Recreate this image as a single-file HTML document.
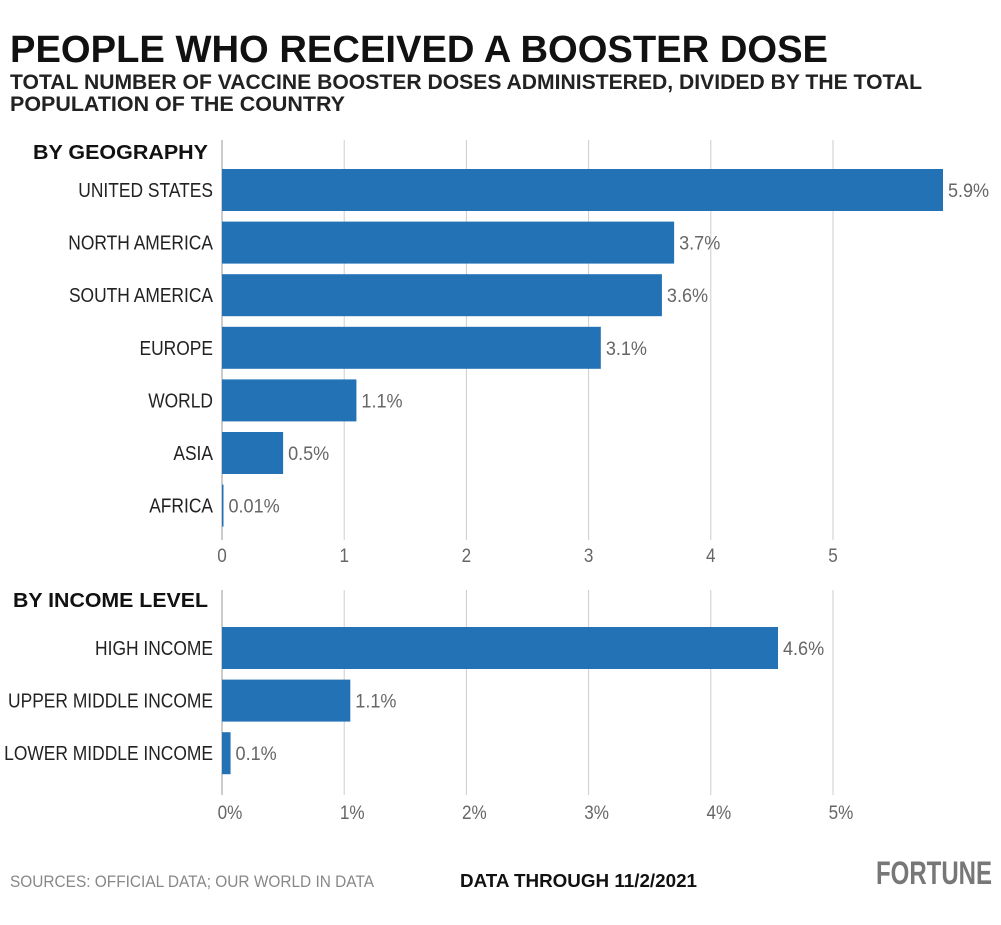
<!DOCTYPE html>
<html><head><meta charset="utf-8"><style>
body{margin:0;background:#fff;}
svg text{font-family:"Liberation Sans Narrow","Liberation Sans",sans-serif;}
</style></head><body>
<svg width="1001" height="920" viewBox="0 0 1001 920" xmlns="http://www.w3.org/2000/svg">
<text x="10" y="62" font-size="38" font-weight="bold" fill="#111" textLength="818" lengthAdjust="spacingAndGlyphs">PEOPLE WHO RECEIVED A BOOSTER DOSE</text>
<text x="10" y="89" font-size="21" font-weight="bold" fill="#222" textLength="912" lengthAdjust="spacingAndGlyphs">TOTAL NUMBER OF VACCINE BOOSTER DOSES ADMINISTERED, DIVIDED BY THE TOTAL</text>
<text x="10" y="111" font-size="21" font-weight="bold" fill="#222" textLength="335" lengthAdjust="spacingAndGlyphs">POPULATION OF THE COUNTRY</text>
<g id="top"></g><g id="bottom"></g>
<text x="10" y="887" font-size="17" fill="#888" textLength="364" lengthAdjust="spacingAndGlyphs">SOURCES: OFFICIAL DATA; OUR WORLD IN DATA</text>
<text x="460" y="887" font-size="18" font-weight="bold" fill="#111" textLength="237" lengthAdjust="spacingAndGlyphs">DATA THROUGH 11/2/2021</text>
<text x="876" y="884" font-size="32" font-weight="bold" fill="#777" textLength="116" lengthAdjust="spacingAndGlyphs">FORTUNE</text>
</svg>
<script>
const geoCategories=["UNITED STATES","NORTH AMERICA","SOUTH AMERICA","EUROPE","WORLD","ASIA","AFRICA"];
const geoValues=[5.9,3.7,3.6,3.1,1.1,0.5,0.01];
const geoLabels=["5.9%","3.7%","3.6%","3.1%","1.1%","0.5%","0.01%"];
const incomeCategories=["HIGH INCOME","UPPER MIDDLE INCOME","LOWER MIDDLE INCOME"];
const incomeValues=[4.55,1.05,0.07];
const incomeLabels=["4.6%","1.1%","0.1%"];
const geoTicks=["0","1","2","3","4","5"];
const incomeTicks=["0%","1%","2%","3%","4%","5%"];
const NS="http://www.w3.org/2000/svg";
const x0=222,unit=122.2;
function xs(v){return x0+v*unit;}
function mk(tag,attrs,parent,txt){const e=document.createElementNS(NS,tag);for(const k in attrs)e.setAttribute(k,attrs[k]);if(txt!==undefined)e.textContent=txt;parent.appendChild(e);return e;}
function squeeze(e,f){const w=e.getComputedTextLength();e.setAttribute('textLength',w*f);e.setAttribute('lengthAdjust','spacingAndGlyphs');}
function draw(g,title,titleY,titleW,cats,vals,labels,ticks,firstY,gridTop,gridBot,tickY,tickOffset){
  const t=mk('text',{x:208,y:titleY,'font-size':20,'font-weight':'bold','text-anchor':'end',fill:'#111',textLength:titleW,lengthAdjust:'spacingAndGlyphs'},g,title);
  
  
  ticks.forEach((tk,i)=>{
    const gx=xs(i);
    if(i>0){const l=mk('line',{x1:gx,x2:gx,y1:gridTop,y2:gridBot,stroke:'#ccc','stroke-width':1},g);
    
    }
    const tt=mk('text',{x:gx+tickOffset,y:tickY,'font-size':19,'text-anchor':'middle',fill:'#666'},g,tk);
    
    
    squeeze(tt,0.9);
  });
  const ax=mk('line',{x1:x0,x2:x0,y1:gridTop,y2:gridBot,stroke:'#999','stroke-width':1},g);
  
  
  cats.forEach((c,i)=>{
    const cy=firstY+i*52.6;
    const w=Math.max(1.5,xs(vals[i])-x0);
    const r=mk('rect',{x:x0,y:cy-21,width:w,height:42,fill:'#2372b6'},g);
    
    
    const cl=mk('text',{x:213,y:cy+7,'font-size':20,'text-anchor':'end',fill:'#222'},g,c);
    
    
    squeeze(cl,0.87);
    const vl=mk('text',{x:x0+w+5,y:cy+7,'font-size':19,fill:'#666'},g,labels[i]);
    
    
    squeeze(vl,0.95);
  });
}
draw(document.getElementById('top'),'BY GEOGRAPHY',159,175,geoCategories,geoValues,geoLabels,geoTicks,190,140,540,562,0);
draw(document.getElementById('bottom'),'BY INCOME LEVEL',607,195,incomeCategories,incomeValues,incomeLabels,incomeTicks,648,590,795,819,8);
</script>
</body></html>
